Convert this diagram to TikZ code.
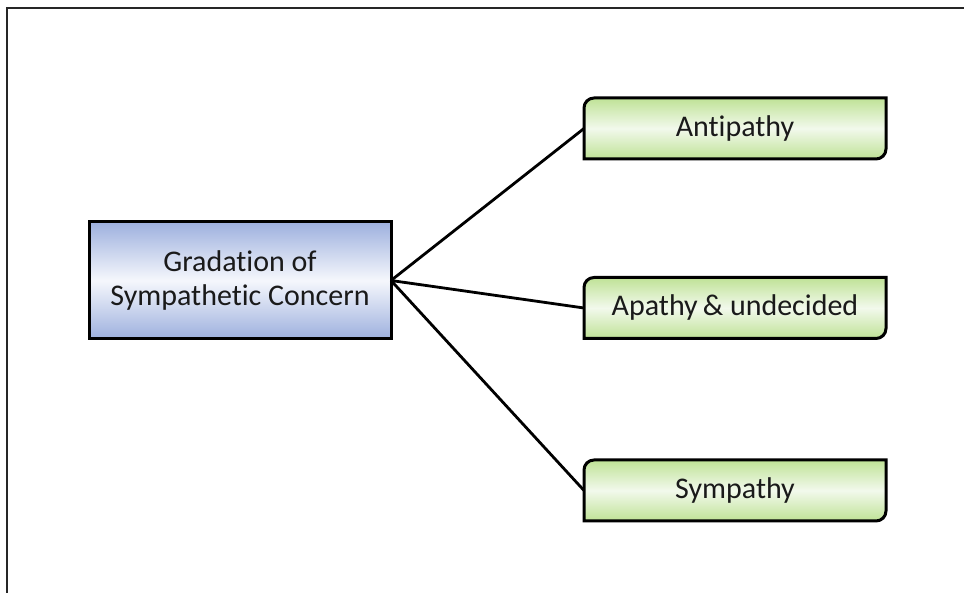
\documentclass[tikz,border=0pt]{standalone}
\usepackage{fontspec}
\setmainfont[Ligatures={NoCommon}]{Carlito}
\definecolor{rootedge}{HTML}{9DB0DE}
\definecolor{rootmid}{HTML}{F5F7FC}
\definecolor{leafedge}{HTML}{BFE296}
\definecolor{leafmid}{HTML}{F2F9EC}
\definecolor{inktext}{HTML}{1A1A1A}
\begin{document}
\begin{tikzpicture}[x=1pt,y=1pt,
  every node/.style={outer sep=0pt, inner sep=0pt, text=inktext,
    font=\fontsize{30}{34}\selectfont, align=center},
  rootbox/.style={draw=black, line width=3pt, minimum width=302pt, minimum height=117pt,
    top color=rootedge, bottom color=rootedge, middle color=rootmid},
  leafbox/.style={minimum width=302pt, minimum height=61pt},
  leafshape/.style={draw=black, line width=3pt, top color=leafedge,
    bottom color=leafedge, middle color=leafmid},
  link/.style={draw=black, line width=2.8pt}
]
\useasboundingbox (0,0) rectangle (964,593);
% outer frame (only top and left edges fall inside the page)
\draw[black!85, line width=2.4pt] (7,-2) -- (7,585) -- (966,585);

% root node
\node[rootbox] (root) at (240,312.5) {Gradation of\\Sympathetic Concern};

% leaf nodes: plain boxes holding the text, frames drawn below
\newcommand\leafframe[1]{%
  \path[leafshape] (#1.south west) -- ([yshift=-10pt]#1.north west)
    arc[start angle=180,end angle=90,radius=10pt] -- (#1.north east)
    -- ([yshift=10pt]#1.south east)
    arc[start angle=0,end angle=-90,radius=10pt] -- cycle;}

\coordinate (pa) at (735,464.5);
\coordinate (pb) at (735,285);
\coordinate (pc) at (735,102.5);
\node[leafbox] (anti) at (pa) {};
\node[leafbox] (apat) at (pb) {};
\node[leafbox] (symp) at (pc) {};
\leafframe{anti}
\leafframe{apat}
\leafframe{symp}
\node at (anti) {Antipathy};
\node at (apat) {Apathy\,\& undecided};
\node at (symp) {Sympathy};

% connectors
\draw[link] (root.east) -- (anti.west);
\draw[link] (root.east) -- (apat.west);
\draw[link] (root.east) -- (symp.west);
\end{tikzpicture}
\end{document}
